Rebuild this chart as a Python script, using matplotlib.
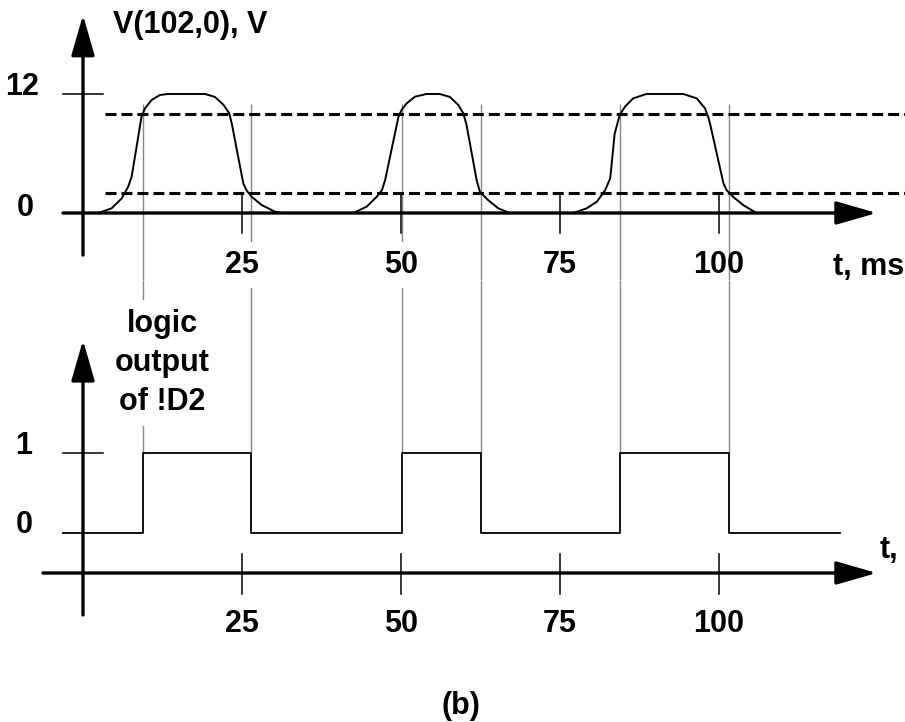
import matplotlib
matplotlib.use("Agg")
import matplotlib.pyplot as plt

plt.rcParams['font.family'] = ['Liberation Sans', 'DejaVu Sans']
plt.rcParams['font.weight'] = 'bold'
plt.rcParams['lines.scale_dashes'] = False

# ---- data -------------------------------------------------------------
# V(102,0) waveform: three pulses (t in ms, V in volts)
pulse1_t = [2.4, 4.5, 6.1, 7.1, 7.65, 9.2, 9.75, 10.8, 12.1, 13.4, 19.2, 20.75,
            22.1, 23.0, 23.4, 25.2, 25.7, 26.5, 28.1, 30.2, 31.2]
pulse1_v = [0.0, 0.47, 1.48, 2.65, 3.66, 9.7, 10.55, 11.4, 11.9, 12.0, 12.0, 11.7,
            10.9, 10.05, 9.0, 3.0, 2.3, 1.65, 0.8, 0.13, 0.0]
pulse2_t = [42.5, 44.6, 46.2, 47.0, 47.5, 49.6, 50.1, 50.9, 52.2, 54.0, 56.1, 57.7,
            59.0, 59.8, 60.3, 61.9, 62.4, 63.7, 65.3, 67.1]
pulse2_v = [0.0, 0.64, 1.65, 2.3, 3.3, 9.7, 10.4, 11.06, 11.73, 12.0, 12.0, 11.7,
            10.9, 10.05, 8.9, 3.3, 2.15, 1.3, 0.47, 0.0]
pulse3_t = [77.1, 79.2, 80.8, 82.1, 82.9, 83.6, 84.4, 85.2, 86.5, 88.6, 94.4, 96.5,
            97.8, 98.3, 98.6, 100.7, 101.2, 102.2, 103.8, 105.9]
pulse3_v = [0.0, 0.47, 1.14, 2.3, 3.5, 8.0, 9.9, 10.7, 11.56, 12.0, 12.0, 11.56,
            10.55, 9.7, 9.0, 3.0, 2.3, 1.65, 0.8, 0.0]

# switching thresholds (V)
thresholds = [10.0, 2.0]

# logic output of !D2: level changes (steps-post)
logic_t = [-3.1, 9.4, 26.4, 50.2, 62.6, 84.5, 101.6, 119.0]
logic_level = [0, 1, 0, 1, 0, 1, 0, 0]

time_ticks = [25, 50, 75, 100]
volt_ticks = [12, 0]
logic_ticks = [1, 0]

# ---- figure -----------------------------------------------------------
W, H = 905, 722
fig = plt.figure(figsize=(W / 100, H / 100), dpi=100)
fig.patch.set_facecolor('white')

TXT = 22
AX_LW = 2.4
TICK_LW = 1.1
GREY = '#858585'

# lower panel (logic output)
ax2 = fig.add_axes([0, 0, 1, 442 / H])
ax2.set_xlim(-13.05, 129.25)
ax2.set_ylim(-2.3625, 3.1625)
ax2.axis('off')
ax2.patch.set_visible(False)

# upper panel (voltage)
ax1 = fig.add_axes([0, 1 - 280 / H, 1, 280 / H])
ax1.set_xlim(-13.05, 129.25)
ax1.set_ylim(-6.756, 21.478)
ax1.axis('off')
ax1.patch.set_visible(False)
ax1.set_zorder(2)


def axis_arrow(ax, start, tip):
    ax.annotate('', xy=tip, xytext=start,
                arrowprops=dict(arrowstyle='-|>,head_length=25,head_width=7.2',
                                mutation_scale=1, lw=AX_LW, color='black',
                                shrinkA=0, shrinkB=0),
                zorder=7)


# ---- upper panel ------------------------------------------------------
axis_arrow(ax1, (-3.14, 0), (124.8, 0))
axis_arrow(ax1, (0, -4.24), (0, 19.97))

# y tick at 12 V
ax1.plot([-3.14, 3.14], [volt_ticks[0]] * 2, color='black', lw=TICK_LW, zorder=3)
# time ticks
for tk in time_ticks:
    ax1.plot([tk, tk], [-2.0, 2.0], color='black', lw=TICK_LW, zorder=3)

# thresholds
for th in thresholds:
    ax1.plot([3.5, 129.25], [th, th], color='black', lw=2.2,
             dashes=(7.9, 3.6), zorder=3, solid_capstyle='butt',
             dash_capstyle='butt')

# waveform
for pt, pv in [(pulse1_t, pulse1_v), (pulse2_t, pulse2_v), (pulse3_t, pulse3_v)]:
    ax1.plot(pt, pv, color='black', lw=1.4, zorder=5,
             solid_joinstyle='round')

# grey guide lines at the switching instants (upper part)
edges = logic_t[1:-1]
ax1.vlines(edges, ax1.get_ylim()[0], 11.0, color=GREY, lw=1.0, zorder=2)

# labels
for tk in time_ticks:
    bb = dict(boxstyle='square,pad=0.25', fc='white', ec='none') if tk < 75 else None
    ax1.text(tk, -5.24, str(tk), ha='center', va='center', fontsize=TXT,
             fontweight='bold', bbox=bb, zorder=6)


def ftext(x, y, s, **kw):
    fig.text(x / W, 1 - y / H, s, fontsize=TXT, fontweight='bold', **kw)


ftext(113, 25, 'V(102,0), V', ha='left', va='center')
ftext(22, 87, str(volt_ticks[0]), ha='center', va='center')
ftext(25, 208, str(volt_ticks[1]), ha='center', va='center')
ftext(833, 275, 't, ms', ha='left', va='baseline')

# ---- lower panel ------------------------------------------------------
axis_arrow(ax2, (-6.29, -0.5), (124.8, -0.5))
axis_arrow(ax2, (0, -1.025), (0, 2.41))

ax2.plot([-3.14, 3.14], [logic_ticks[0]] * 2, color='black', lw=TICK_LW, zorder=3)
for tk in time_ticks:
    ax2.plot([tk, tk], [-0.2625, -0.7625], color='black', lw=TICK_LW, zorder=3)

ax2.plot(logic_t, logic_level, drawstyle='steps-post', color='black', lw=1.3,
         zorder=5)

ax2.vlines(edges, 1.0, ax2.get_ylim()[1], color=GREY, lw=1.0, zorder=2)

for tk in time_ticks:
    ax2.text(tk, -1.1375, str(tk), ha='center', va='center', fontsize=TXT,
             fontweight='bold', zorder=6)

ax2.text(12.42, 2.125, 'logic\noutput\nof !D2', ha='center', va='center',
         fontsize=TXT, fontweight='bold', linespacing=1.4, zorder=6,
         bbox=dict(boxstyle='square,pad=0.3', fc='white', ec='none'))

ftext(24, 446, str(logic_ticks[0]), ha='center', va='center')
ftext(24, 525, str(logic_ticks[1]), ha='center', va='center')
ftext(880, 558, 't,', ha='left', va='baseline')

ftext(461, 706, '(b)', ha='center', va='center')

fig.savefig('out.png', dpi=100, facecolor='white')
